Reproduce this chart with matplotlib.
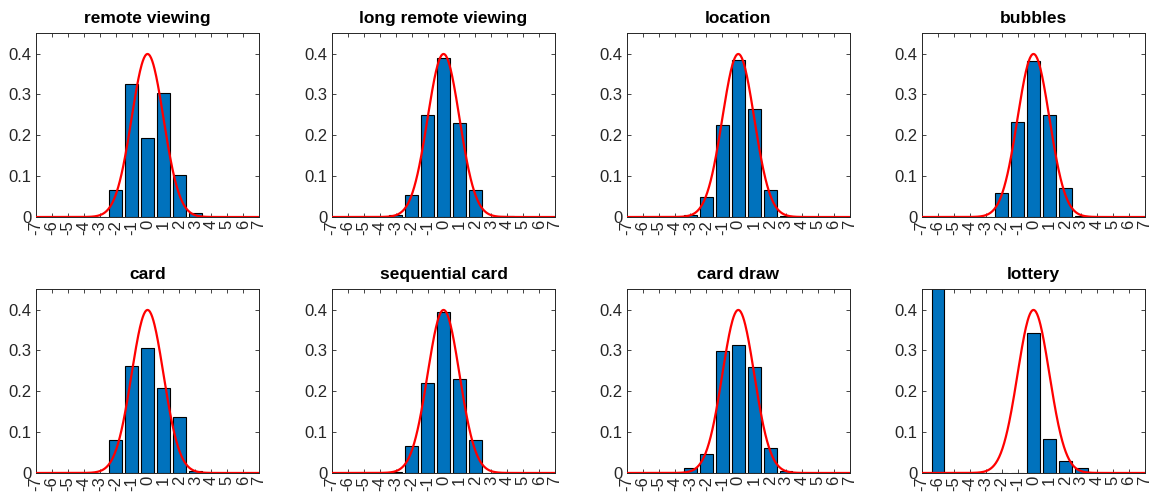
import numpy as np
import matplotlib
matplotlib.use("Agg")
import matplotlib.pyplot as plt

plt.rcParams['font.family'] = ['Liberation Sans', 'DejaVu Sans']

titles = ["remote viewing", "long remote viewing", "location", "bubbles",
          "card", "sequential card", "card draw", "lottery"]
bins = list(range(-7, 8))

remote_viewing      = [0, 0, 0, 0, 0.001, 0.065, 0.326, 0.193, 0.304, 0.103, 0.011, 0, 0, 0, 0]
long_remote_viewing = [0, 0, 0, 0, 0.006, 0.053, 0.250, 0.390, 0.230, 0.065, 0.001, 0.003, 0, 0, 0]
location            = [0, 0, 0, 0, 0.006, 0.048, 0.225, 0.385, 0.265, 0.067, 0.002, 0, 0, 0, 0]
bubbles             = [0, 0, 0, 0, 0.001, 0.058, 0.232, 0.383, 0.250, 0.070, 0.002, 0, 0, 0, 0]
card                = [0, 0, 0, 0, 0.000, 0.080, 0.262, 0.306, 0.208, 0.136, 0.006, 0, 0, 0, 0]
sequential_card     = [0, 0, 0, 0, 0.002, 0.067, 0.220, 0.395, 0.229, 0.080, 0.000, 0, 0, 0, 0]
card_draw           = [0, 0, 0, 0, 0.011, 0.047, 0.299, 0.314, 0.259, 0.062, 0.006, 0, 0, 0, 0]
lottery             = [0, 0.50, 0, 0, 0, 0, 0, 0.342, 0.082, 0.030, 0.011, 0, 0, 0, 0]

series = [remote_viewing, long_remote_viewing, location, bubbles,
          card, sequential_card, card_draw, lottery]

fig = plt.figure(figsize=(11.5, 4.93), dpi=100)
lefts = [0.0313, 0.2887, 0.545, 0.8017]
bottoms = [0.5598, 0.0406]
w, h = 0.194, 0.373

xs = np.linspace(-7, 7, 400)
pdf = np.exp(-xs**2 / 2) / np.sqrt(2 * np.pi)

for i, (t, vals) in enumerate(zip(titles, series)):
    r, c = divmod(i, 4)
    ax = fig.add_axes([lefts[c], bottoms[r], w, h])
    ax.bar(bins, vals, width=0.8, color='#0072BD', edgecolor='black', linewidth=0.8, zorder=2)
    ax.plot(xs, pdf, color='red', linewidth=1.6, zorder=3)
    ax.set_xlim(-7, 7)
    ax.set_ylim(0, 0.45)
    ax.set_xticks(bins)
    ax.set_xticklabels([str(b) for b in bins], rotation=90, fontsize=12, color='#262626')
    ax.set_yticks([0, 0.1, 0.2, 0.3, 0.4])
    ax.set_yticklabels(['0', '0.1', '0.2', '0.3', '0.4'], fontsize=12, color='#262626')
    ax.tick_params(axis='x', pad=2)
    ax.tick_params(axis='y', pad=3)
    ax.tick_params(direction='in', top=True, right=True, length=3, width=0.6, color='#262626')
    for s in ax.spines.values():
        s.set_linewidth(0.7)
        s.set_color('#262626')
    ax.set_title(t, fontsize=12.5, fontweight='bold', pad=7)

fig.savefig("out.png", dpi=100)
